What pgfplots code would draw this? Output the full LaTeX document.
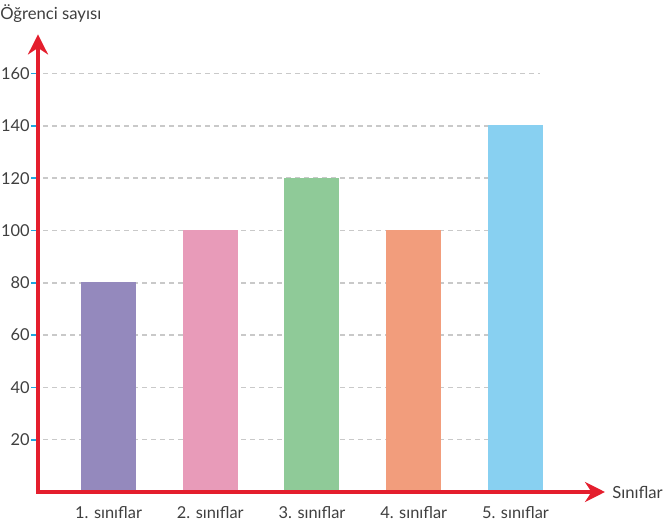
\documentclass[border=0pt]{standalone}
\usepackage{pgfplots}
\pgfplotsset{compat=1.18}
\usepackage{fontspec}
\setmainfont{Lato}
\usetikzlibrary{arrows.meta}
\definecolor{axisred}{HTML}{E41E2D}
\definecolor{gridgray}{HTML}{C9C9C9}
\definecolor{tickblue}{HTML}{1FA8E0}
\definecolor{labelgray}{HTML}{3F3F3F}
\definecolor{barpurple}{HTML}{9489BD}
\definecolor{barpink}{HTML}{E89BB9}
\definecolor{bargreen}{HTML}{8FCA98}
\definecolor{barorange}{HTML}{F29D7C}
\definecolor{barblue}{HTML}{88D0F1}
\begin{document}
\begin{tikzpicture}
\path[use as bounding box] (-28.5pt,-24.75pt) rectangle (470.25pt,369pt);
\begin{axis}[
  at={(0,0)}, anchor=south west,
  scale only axis,
  width=425.25pt, height=343.2pt,
  xmin=0.307, xmax=5.88,
  ymin=0, ymax=175,
  axis x line=bottom, axis y line=left,
  axis on top,
  axis line style={axisred, line width=3pt, line cap=rect, -{Stealth[length=15pt, width=15pt]}},
  xtick={1,2,3,4,5},
  xticklabels={1. sınıflar, 2. sınıflar, 3. sınıflar, 4. sınıflar, 5. sınıflar},
  x tick style={draw=none},
  ytick={20,40,60,80,100,120,140,160},
  y tick style={tickblue, line width=1.2pt},
  major tick length=5pt,
  tick align=outside,
  /pgf/number format/assume math mode=true,
  tick label style={text=labelgray, font=\fontsize{12.3}{14}\selectfont},
  yticklabel style={inner xsep=1pt},
  xticklabel style={yshift=-2pt},
  ybar, bar width=40.5pt, bar shift=0pt,
  clip=false,
]
% dashed guide lines, stopping short of the x-axis arrow
\pgfplotsinvokeforeach{20,40,60,80,100,120,140,160}{
  \draw[gridgray, line width=1.1pt, dash pattern=on 3.75pt off 3pt]
    (axis cs:0.36,#1) -- (axis cs:5.24,#1);
}
\addplot[fill=barpurple, draw=barpurple, line width=0.75pt] coordinates {(1,80)};
\addplot[fill=barpink, draw=barpink, line width=0.75pt] coordinates {(2,100)};
\addplot[fill=bargreen, draw=bargreen, line width=0.75pt] coordinates {(3,120)};
\addplot[fill=barorange, draw=barorange, line width=0.75pt] coordinates {(4,100)};
\addplot[fill=barblue, draw=barblue, line width=0.75pt] coordinates {(5,140)};
\end{axis}
\node[anchor=west, inner sep=0pt, text=labelgray, font=\fontsize{12.5}{15}\selectfont] at (-28.5pt,358.5pt) {Öğrenci sayısı};
\node[anchor=west, inner sep=0pt, text=labelgray, font=\fontsize{12.5}{15}\selectfont] at (430.5pt,0pt) {Sınıflar};
\end{tikzpicture}
\end{document}
